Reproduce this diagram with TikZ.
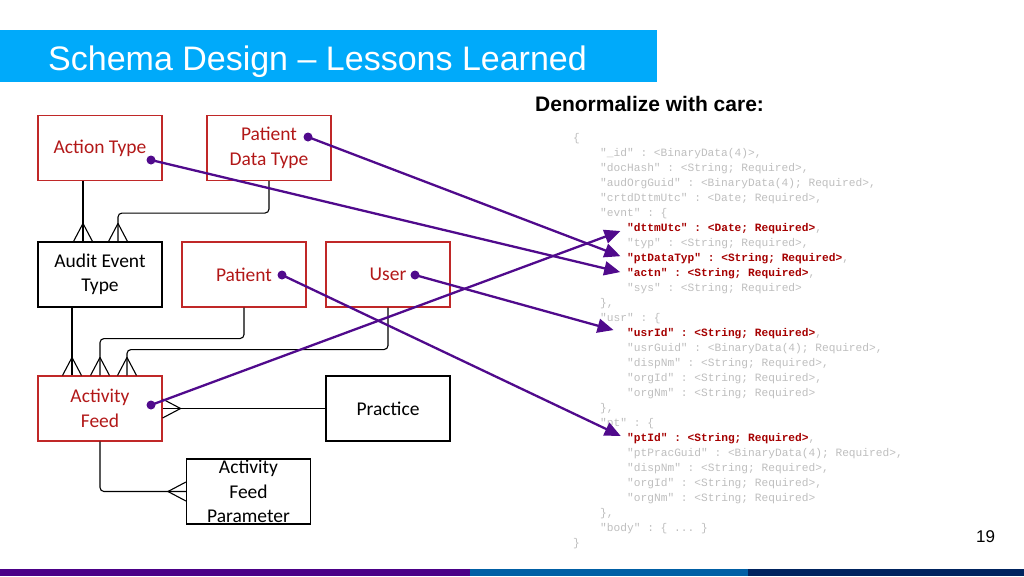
\documentclass[tikz,border=0pt]{standalone}
\usepackage{fontspec}
\setmainfont{Liberation Sans}
\setmonofont{Liberation Mono}
\newfontfamily\boxfont{Carlito}
\usetikzlibrary{arrows.meta, positioning}

\definecolor{titlecyan}{RGB}{0,170,250}
\definecolor{boxred}{RGB}{192,40,40}
\definecolor{textred}{RGB}{178,24,24}
\definecolor{codered}{RGB}{165,0,0}
\definecolor{codegray}{RGB}{190,190,190}
\definecolor{linkpurple}{RGB}{80,10,140}
\definecolor{barpurple}{RGB}{75,0,135}
\definecolor{barblue}{RGB}{0,95,165}
\definecolor{barnavy}{RGB}{0,35,95}

\newcommand{\keyfield}[1]{\textcolor{codered}{\bfseries #1}}

\begin{document}
\begin{tikzpicture}[x=1pt, y=-1pt,
        entity/.style={rectangle, draw=black, line width=1.1pt, minimum width=124pt, minimum height=65pt, inner sep=0pt, align=center, font=\boxfont\fontsize{19.5}{24.5}\selectfont},
        redentity/.style={entity, draw=boxred, text=textred},
        conn/.style={draw=black, line width=1.1pt, rounded corners=4pt},
        crow/.pic={\draw[conn] (-18,0) -- (0,9.5) (-18,0) -- (0,-9.5);},
        dot/.style={circle, fill=linkpurple, inner sep=0pt, minimum size=9pt},
        link/.style={-{Triangle[length=16pt, width=14pt]}, line width=2.3pt, draw=linkpurple, shorten >=7pt},
        code/.style={anchor=west, inner sep=0pt, text=codegray, text height=8pt, text depth=2.5pt, font=\ttfamily\fontsize{11.2}{13}\selectfont}
    ]
        \useasboundingbox (0,0) rectangle (1024,576);
        \fill[titlecyan] (0,30) rectangle (657,82);
        \node[anchor=base west, inner sep=0pt, text=white, font=\fontsize{34}{40}\selectfont] (title) at (48,70) {Schema Design – Lessons Learned};
        \node[anchor=base west, inner sep=0pt, font=\bfseries\fontsize{21}{25}\selectfont] (subtitle) at (535,111) {Denormalize with care:};
        \node[anchor=base west, inner sep=0pt, font=\fontsize{17}{20}\selectfont] (pagenum) at (976,542) {19};
        \fill[barpurple] (0,569) rectangle (470,576);
        \fill[barblue] (470,569) rectangle (748,576);
        \fill[barnavy] (748,569) rectangle (1024,576);

        \node[redentity] (actiontype) at (100,148) {Action Type};
        \node[redentity] (ptdatatype) at (269,148) {Patient\\Data Type};
        \node[entity] (auditevent) at (100,274.5) {Audit Event\\Type};
        \node[redentity] (patient) at (244,274.5) {Patient};
        \node[redentity] (user) at (388,274.5) {User};
        \node[redentity] (actfeed) at (100,408.5) {Activity\\Feed};
        \node[entity] (practice) at (388,408.5) {Practice};
        \node[entity] (afparam) at (248.5,491.5) {Activity\\Feed\\Parameter};

        \draw[conn] ([xshift=-17pt]actiontype.south) -- ([xshift=-17pt]auditevent.north);
        \draw[conn] (ptdatatype.south) -- ++(0,32) -| ([xshift=18pt]auditevent.north);
        \draw[conn] ([xshift=-28pt]auditevent.south) -- ([xshift=-28pt]actfeed.north);
        \draw[conn] (patient.south) -- ++(0,31) -| (actfeed.north);
        \draw[conn] (user.south) -- ++(0,42) -| ([xshift=27pt]actfeed.north);
        \draw[conn] (practice.west) -- (actfeed.east);
        \draw[conn] (actfeed.south) |- (afparam.west);
        \pic[rotate=-90] at ([xshift=-17pt]auditevent.north) {crow};
        \pic[rotate=-90] at ([xshift=18pt]auditevent.north) {crow};
        \pic[rotate=-90] at ([xshift=-28pt]actfeed.north) {crow};
        \pic[rotate=-90] at (actfeed.north) {crow};
        \pic[rotate=-90] at ([xshift=27pt]actfeed.north) {crow};
        \pic[rotate=180] at (actfeed.east) {crow};
        \pic at (afparam.west) {crow};

        \node[code] (open) at (573,138.5) {\{};
        \node[code] (id) at (600,153.5) {"\_id" : <BinaryData(4)>,};
        \node[code] (dochash) at (600,168.6) {"docHash" : <String; Required>,};
        \node[code] (audorg) at (600,183.6) {"audOrgGuid" : <BinaryData(4); Required>,};
        \node[code] (crtd) at (600,198.6) {"crtdDttmUtc" : <Date; Required>,};
        \node[code] (evnt) at (600,213.6) {"evnt" : \{};
        \node[code] (dttm) at (627,228.6) {\keyfield{"dttmUtc" : <Date; Required>},};
        \node[code] (typ) at (627,243.6) {"typ" : <String; Required>,};
        \node[code] (ptdtyp) at (627,258.7) {\keyfield{"ptDataTyp" : <String; Required>},};
        \node[code] (actn) at (627,273.7) {\keyfield{"actn" : <String; Required>},};
        \node[code] (sys) at (627,288.7) {"sys" : <String; Required>};
        \node[code] (evntend) at (600,303.7) {\},};
        \node[code] (usr) at (600,318.7) {"usr" : \{};
        \node[code] (usrid) at (627,333.8) {\keyfield{"usrId" : <String; Required>},};
        \node[code] (usrguid) at (627,348.8) {"usrGuid" : <BinaryData(4); Required>,};
        \node[code] (usrdisp) at (627,363.8) {"dispNm" : <String; Required>,};
        \node[code] (usrorgid) at (627,378.8) {"orgId" : <String; Required>,};
        \node[code] (usrorgnm) at (627,393.8) {"orgNm" : <String; Required>};
        \node[code] (usrend) at (600,408.9) {\},};
        \node[code] (pt) at (600,423.9) {"pt" : \{};
        \node[code] (ptid) at (627,438.9) {\keyfield{"ptId" : <String; Required>},};
        \node[code] (ptprac) at (627,453.9) {"ptPracGuid" : <BinaryData(4); Required>,};
        \node[code] (ptdisp) at (627,468.9) {"dispNm" : <String; Required>,};
        \node[code] (ptorgid) at (627,484.0) {"orgId" : <String; Required>,};
        \node[code] (ptorgnm) at (627,499.0) {"orgNm" : <String; Required>};
        \node[code] (ptend) at (600,514.0) {\},};
        \node[code] (body) at (600,529.0) {"body" : \{ ... \}};
        \node[code] (close) at (573,544.0) {\}};

        \node[dot] (atdot) at (151,160) {};
        \node[dot] (pdtdot) at (308,137) {};
        \node[dot] (ptdot) at (282,275) {};
        \node[dot] (usrdot) at (415,275) {};
        \node[dot] (afdot) at (151,405) {};
        \draw[link] (pdtdot.center) -- (ptdtyp.west);
        \draw[link] (atdot.center) -- (actn.west);
        \draw[link] (afdot.center) -- (dttm.west);
        \draw[link, shorten >=14pt] (usrdot.center) -- (usrid.west);
        \draw[link] (ptdot.center) -- (ptid.west);
    \end{tikzpicture}
\end{document}
